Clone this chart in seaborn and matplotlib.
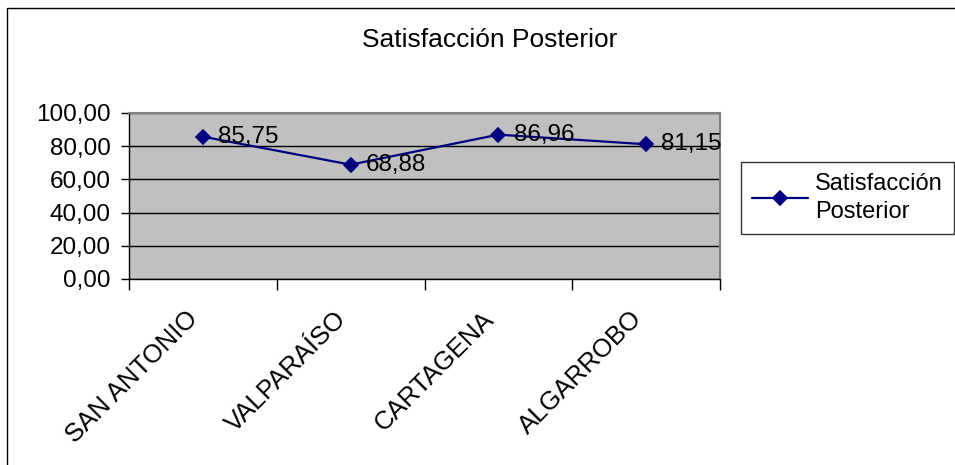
import matplotlib
matplotlib.use("Agg")
import matplotlib.pyplot as plt
import seaborn as sns
import pandas as pd
from matplotlib.patches import Rectangle
from matplotlib.ticker import FixedLocator, FuncFormatter
from matplotlib.transforms import ScaledTranslation

categories = ["SAN ANTONIO", "VALPARAÍSO", "CARTAGENA", "ALGARROBO"]
values = [85.75, 68.88, 86.96, 81.15]
series_name = "Satisfacción Posterior"
yticks = [0, 20, 40, 60, 80, 100]

sns.set_theme(style="white")
plt.rcParams["font.family"] = ["Liberation Sans", "DejaVu Sans"]
plt.rcParams["text.color"] = "black"
plt.rcParams["xtick.color"] = "black"
plt.rcParams["ytick.color"] = "black"
plt.rcParams["axes.labelcolor"] = "black"

df = pd.DataFrame({"cat": categories, "val": values})

fig = plt.figure(figsize=(9.55, 4.65), dpi=100)
ax = fig.add_axes([129/955, 1-279/465, (720-129)/955, (279-113)/465])
ax.set_facecolor("#C0C0C0")

sns.pointplot(data=df, x="cat", y="val", ax=ax, color="#000080", markers="D",
              linestyles="-", linewidth=1.6, markersize=7, label="Satisfacción\nPosterior",
              zorder=5)

for i, v in enumerate(values):
    ax.annotate(f"{v:.2f}".replace(".", ","), (i, v), xytext=(11, 0),
                textcoords="offset points", ha="left", va="center",
                fontsize=17.5, color="black", zorder=6)

ax.set_ylim(0, 100)
ax.set_xlim(-0.5, len(categories) - 0.5)
ax.yaxis.set_major_locator(FixedLocator(yticks))
ax.yaxis.set_major_formatter(FuncFormatter(lambda v, p: f"{v:.2f}".replace(".", ",")))
ax.grid(axis="y", color="black", linewidth=1.0)
ax.set_axisbelow(True)

ax.set_xticks([i - 0.5 for i in range(len(categories) + 1)])
ax.set_xticklabels([])

# category labels, rotated like Excel, placed under each category centre
cat_trans = ax.get_xaxis_transform() + ScaledTranslation(-6/72, -26/72, fig.dpi_scale_trans)
for i, c in enumerate(categories):
    ax.text(i, 0, c, transform=cat_trans, rotation=45, ha="right", va="center",
            rotation_mode="anchor", fontsize=18.5, color="black", clip_on=False)

ax.tick_params(axis="x", which="major", length=8, width=1, color="black", direction="out", bottom=True)
ax.tick_params(axis="y", length=6, width=1, color="black", labelcolor="black",
               direction="out", left=True, labelsize=17.5, pad=7)

ax.set_xlabel("")
ax.set_ylabel("")

for s in ["left", "bottom"]:
    ax.spines[s].set_color("black")
    ax.spines[s].set_linewidth(1.0)
for s in ["top", "right"]:
    ax.spines[s].set_color("#808080")
    ax.spines[s].set_linewidth(1.5)

fig.text(490/955, 1-40/465, series_name, ha="center", va="center", fontsize=19, color="black")

leg = ax.legend(loc="upper left", bbox_to_anchor=(741/955, 1-162/465),
                bbox_transform=fig.transFigure, fontsize=17, frameon=True,
                fancybox=False, edgecolor="black", handlelength=2.4,
                handletextpad=0.3, borderpad=0.45, borderaxespad=0, labelspacing=0.2)
leg.get_frame().set_linewidth(1.0)
for t in leg.get_texts():
    t.set_linespacing(1.4)
    t.set_color("black")

fig.patches.append(Rectangle((7/955, -0.1), 1.2, 1.1 - 8/465, transform=fig.transFigure,
                             fill=False, edgecolor="black", linewidth=1.0))

fig.savefig("out.png", dpi=100, facecolor="white")
